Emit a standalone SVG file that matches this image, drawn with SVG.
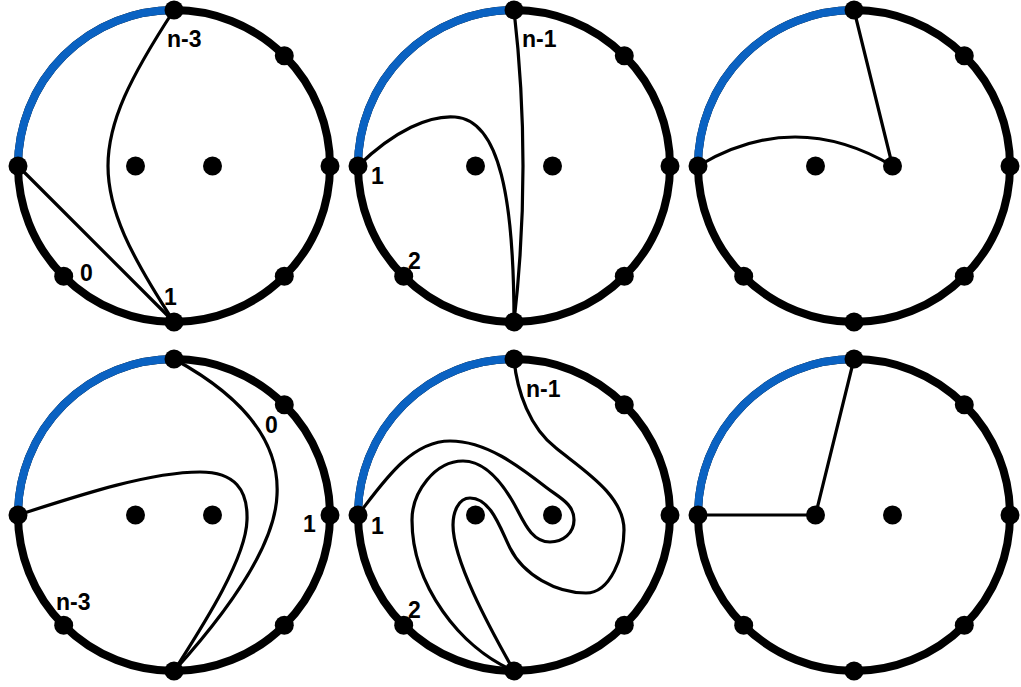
<svg xmlns="http://www.w3.org/2000/svg" xmlns:xlink="http://www.w3.org/1999/xlink" width="1021" height="687" viewBox="0 0 1021 687">
<style>
.ring{fill:none;stroke:#000;stroke-width:8}
.arc{fill:none;stroke:#0a62c2;stroke-width:8}
.edge{fill:none;stroke:#000;stroke-width:3.2;stroke-linecap:round;stroke-linejoin:round}
.dot{fill:#000}
.lbl{font-family:"Liberation Sans",Arial,sans-serif;font-weight:bold;font-size:23px;fill:#000}
</style>
<defs>
<g id="disk">
<circle class="ring" cx="0" cy="0" r="156"/>
<path class="arc" d="M-156,0 A156,156 0 0,1 0,-156"/>
</g>
<g id="bdots">
<circle class="dot" cx="0" cy="-156" r="9.5"/>
<circle class="dot" cx="110.3" cy="-110.3" r="9.5"/>
<circle class="dot" cx="156" cy="0" r="9.5"/>
<circle class="dot" cx="110.3" cy="110.3" r="9.5"/>
<circle class="dot" cx="0" cy="156" r="9.5"/>
<circle class="dot" cx="-110.3" cy="110.3" r="9.5"/>
<circle class="dot" cx="-156" cy="0" r="9.5"/>
<circle class="dot" cx="-38.5" cy="0" r="9.5"/>
<circle class="dot" cx="38.5" cy="0" r="9.5"/>
</g>
</defs>
<rect width="1021" height="687" fill="#fff"/>
<g id="rings">
<use xlink:href="#disk" transform="translate(174,166)"/>
<use xlink:href="#disk" transform="translate(514,166)"/>
<use xlink:href="#disk" transform="translate(854,166)"/>
<use xlink:href="#disk" transform="translate(174,515)"/>
<use xlink:href="#disk" transform="translate(514,515)"/>
<use xlink:href="#disk" transform="translate(854,515)"/>
</g>
<g id="connectors">
<path class="edge" d="M18,166 L174,322"/>
<path class="edge" d="M174,10 C86,145 86,187 174,322"/>
<path class="edge" d="M514,10 Q532,166 514,322"/>
<path class="edge" d="M358,166 C395,130 430,115 455,117 C500,120 514,200 514,322"/>
<path class="edge" d="M854,10 L892.5,166"/>
<path class="edge" d="M698,166 Q795,108 892.5,166"/>
<path class="edge" d="M18,515 C80,495 150,472 200,472 C235,472 248,490 247,520 C246,560 200,630 174,671"/>
<path class="edge" d="M174,359 C240,395 280,440 277,495 C275,550 220,620 174,671"/>
<path class="edge" d="M514,359 C517,392 530,428 556,448 C583,470 624,495 624,530 C624,555 611,593 586,593 C556,593 523.5,575 510,548 C500.5,529 491,498 470,498 C458,498 453,513 453,525 C453,560 488,625 514,671"/>
<path class="edge" d="M358,515 C382,484 410,441 450,441 C486,441 519,466 547,488 C560,498 574,504 574,520 C574,533 563,542 550,542 C530,542 523,519 513,502 C502,483 485,461 463,461 C435,461 412,492 412,520 C412,585 460,648 514,671"/>
<path class="edge" d="M698,515 L815.5,515"/>
<path class="edge" d="M854,359 L815.5,515"/>
</g>
<g id="panel1">
<use xlink:href="#bdots" transform="translate(174,166)"/>
<text class="lbl" x="167" y="47">n-3</text>
<text class="lbl" x="80" y="281">0</text>
<text class="lbl" x="164" y="305">1</text>
</g>
<g id="panel2">
<use xlink:href="#bdots" transform="translate(514,166)"/>
<text class="lbl" x="522" y="47">n-1</text>
<text class="lbl" x="371" y="184">1</text>
<text class="lbl" x="408" y="269">2</text>
</g>
<g id="panel3">
<use xlink:href="#bdots" transform="translate(854,166)"/>
</g>
<g id="panel4">
<use xlink:href="#bdots" transform="translate(174,515)"/>
<text class="lbl" x="265" y="433">0</text>
<text class="lbl" x="303" y="532">1</text>
<text class="lbl" x="56" y="610">n-3</text>
</g>
<g id="panel5">
<use xlink:href="#bdots" transform="translate(514,515)"/>
<text class="lbl" x="526" y="397">n-1</text>
<text class="lbl" x="371" y="534">1</text>
<text class="lbl" x="408" y="618">2</text>
</g>
<g id="panel6">
<use xlink:href="#bdots" transform="translate(854,515)"/>
</g>
</svg>
